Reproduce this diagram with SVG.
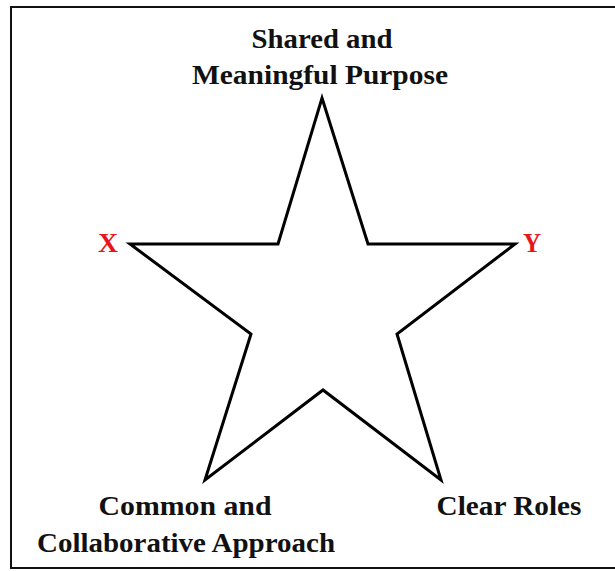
<svg xmlns="http://www.w3.org/2000/svg" width="615" height="571" viewBox="0 0 615 571">
<style>
.t{font-family:"Liberation Serif","Times New Roman",serif;font-weight:bold;font-size:27px;fill:#111;text-anchor:middle}
.r{fill:#e8161b}
</style>
<rect x="0" y="0" width="615" height="571" fill="#fff"/>
<rect id="frame" x="11" y="7" width="620" height="561" fill="none" stroke="#111" stroke-width="2"/>
<g id="star">
<polygon points="322,98 368,244 515,244 397,334 441,480 323,390 205,480 251,334 130,244 278,244" fill="#fff" stroke="#000" stroke-width="3" stroke-linejoin="miter"/>
</g>
<g id="connectors"></g>
<g id="top-label">
<text class="t" x="322" y="48" textLength="141" lengthAdjust="spacingAndGlyphs">Shared and</text>
<text class="t" x="320" y="84" textLength="256" lengthAdjust="spacingAndGlyphs">Meaningful Purpose</text>
</g>
<g id="x-label"><text class="t r" x="108" y="252" textLength="20" lengthAdjust="spacingAndGlyphs">X</text></g>
<g id="y-label"><text class="t r" x="532" y="252" textLength="18" lengthAdjust="spacingAndGlyphs">Y</text></g>
<g id="left-label">
<text class="t" x="185" y="515" textLength="173" lengthAdjust="spacingAndGlyphs">Common and</text>
<text class="t" x="186" y="552" textLength="298" lengthAdjust="spacingAndGlyphs">Collaborative Approach</text>
</g>
<g id="right-label">
<text class="t" x="509" y="515" textLength="145" lengthAdjust="spacingAndGlyphs">Clear Roles</text>
</g>
</svg>
